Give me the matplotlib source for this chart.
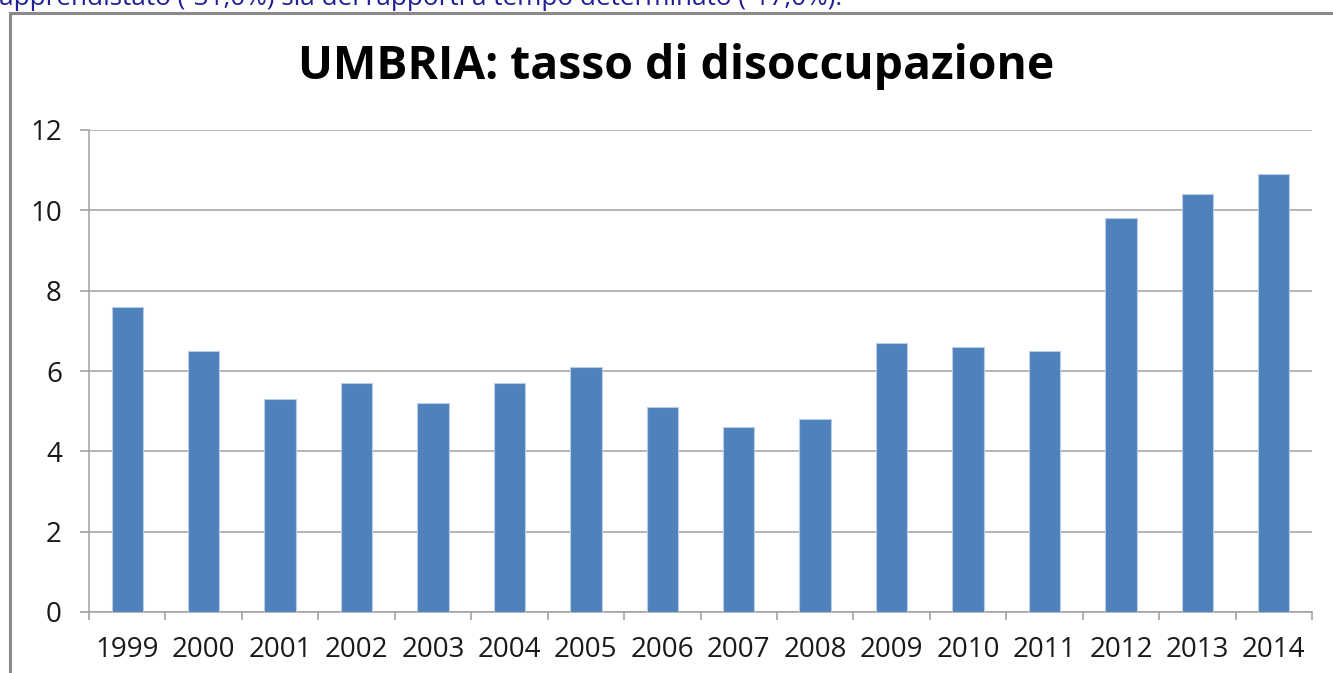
import matplotlib
matplotlib.use("Agg")
import matplotlib.pyplot as plt
from matplotlib.patches import Rectangle

years = ["1999", "2000", "2001", "2002", "2003", "2004", "2005", "2006",
         "2007", "2008", "2009", "2010", "2011", "2012", "2013", "2014"]
rates = [7.6, 6.5, 5.3, 5.7, 5.2, 5.7, 6.1, 5.1, 4.6, 4.8, 6.7, 6.6, 6.5, 9.8, 10.4, 10.9]
yticks = [0, 2, 4, 6, 8, 10, 12]
title = "UMBRIA: tasso di disoccupazione"
top_text = "apprendistato (-31,0%) sia dei rapporti a tempo determinato (-17,0%)."

W, H = 1333, 673
fig = plt.figure(figsize=(W / 100, H / 100), dpi=100)
fig.patch.set_facecolor("white")

# frame around chart
fig.patches.append(Rectangle((10 / W, -0.1), 1.2, 1 - 13 / H + 0.1, transform=fig.transFigure,
                             fill=False, edgecolor="#8a8a8a", linewidth=2.2, zorder=0))

# cut-off sentence above the chart
fig.text(-1 / W, 1 - 5 / H, top_text, fontsize=18.8, family="Open Sans",
         color="#1f1f96", va="baseline", ha="left")

ax = fig.add_axes([89 / W, 61 / H, (1312 - 89) / W, (612 - 130) / H])
x = list(range(len(years)))
ax.bar(x, rates, width=0.41, color="#4f81bd", edgecolor="#b9cde5", linewidth=0.8, zorder=3)
ax.set_xlim(-0.5, len(years) - 0.5)
ax.set_ylim(0, 12)
ax.set_yticks(yticks)
ax.set_yticklabels([str(v) for v in yticks])
ax.set_xticks(x)
ax.set_xticklabels(years)
ax.set_xticks([i - 0.5 for i in range(len(years) + 1)], minor=True)
ax.tick_params(axis="x", which="major", length=0, pad=17)
ax.tick_params(axis="x", which="minor", length=6, width=1.1, color="#9a9a9a", direction="out")
ax.tick_params(axis="y", length=6.5, width=1.1, color="#9a9a9a", pad=13)
for lab in ax.get_xticklabels() + ax.get_yticklabels():
    lab.set_fontfamily("Open Sans")
    lab.set_fontsize(20)
    lab.set_color("#1a1a1a")
ax.grid(axis="y", color="#a0a0a0", linewidth=1.1, zorder=0)
ax.set_axisbelow(True)
for s in ["top", "right"]:
    ax.spines[s].set_visible(False)
for s in ["left", "bottom"]:
    ax.spines[s].set_color("#a0a0a0")
    ax.spines[s].set_linewidth(1.1)

fig.text(676 / W, 1 - 79 / H, title, fontsize=33.3, fontweight="bold", family="Open Sans",
         color="black", ha="center", va="baseline")

fig.savefig("out.png", dpi=100)
